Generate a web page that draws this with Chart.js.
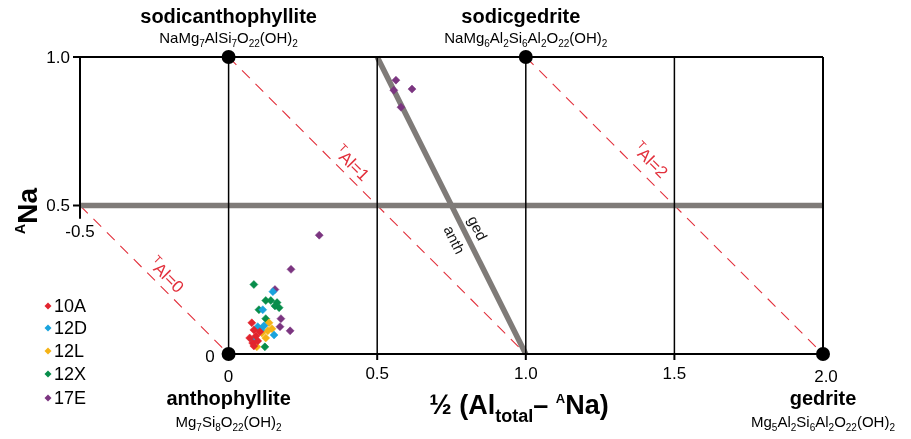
<!DOCTYPE html>
<html>
<head>
<meta charset="utf-8">
<script src="https://cdn.jsdelivr.net/npm/chart.js@4"></script>
<style>
  html, body { margin: 0; padding: 0; background: #fff; }
  canvas { display: block; }
</style>
</head>
<body>
<canvas id="amphChart" width="911" height="439"></canvas>
<script>
// axis ticks
const xTicks = [-0.5, 0, 0.5, 1.0, 1.5, 2.0];
const yTicks = [0, 0.5, 1.0];

// analyses: [1/2 (Al total - A Na), A Na]
const sample10A = [[0.078, 0.105], [0.085, 0.081], [0.092, 0.061], [0.105, 0.075], [0.081, 0.037], [0.085, 0.027], [0.071, 0.054], [0.098, 0.044]];
const sample12D = [[0.149, 0.210], [0.115, 0.149], [0.098, 0.092], [0.119, 0.095], [0.153, 0.064], [0.081, 0.047], [0.108, 0.081]];
const sample12L = [[0.136, 0.105], [0.146, 0.085], [0.125, 0.054], [0.095, 0.024], [0.112, 0.071], [0.132, 0.078]];
const sample12X = [[0.085, 0.234], [0.125, 0.180], [0.142, 0.180], [0.163, 0.173], [0.170, 0.156], [0.102, 0.149], [0.125, 0.119], [0.122, 0.024], [0.156, 0.162]];
const sample17E = [[0.563, 0.922], [0.556, 0.888], [0.617, 0.892], [0.580, 0.831], [0.305, 0.400], [0.210, 0.285], [0.156, 0.217], [0.176, 0.119], [0.173, 0.092], [0.207, 0.078]];

const sampleNames = ['10A', '12D', '12L', '12X', '17E'];
const sampleData = [sample10A, sample12D, sample12L, sample12X, sample17E];
const sampleColors = ['#e2242e', '#1aa3dd', '#f5b316', '#078d4a', '#7b3580'];

// end members
const endNames = ['sodicanthophyllite', 'sodicgedrite', 'anthophyllite', 'gedrite'];
const endFormulas = ['NaMg_{7}AlSi_{7}O_{22}(OH)_{2}', 'NaMg_{6}Al_{2}Si_{6}Al_{2}O_{22}(OH)_{2}', 'Mg_{7}Si_{8}O_{22}(OH)_{2}', 'Mg_{5}Al_{2}Si_{6}Al_{2}O_{22}(OH)_{2}'];
const endX = [0, 1, 0, 2];
const endY = [1, 1, 0, 0];

// frame and grid
const frameLines = [[[-0.5, 1], [2, 1]], [[-0.5, 1], [-0.5, 0.455]], [[0, 0], [2, 0]], [[2, 1], [2, 0]]];
const gridX = [0, 0.5, 1.0, 1.5];
// anth / ged boundary lines
const boundaryLines = [[[-0.5, 0.5], [2, 0.5]], [[0.5, 1], [1, 0]]];
// total tetrahedral Al contours
const tAlValues = [0, 1, 2];
const tAlLines = [[[-0.5, 0.5], [0, 0]], [[0, 1], [1, 0]], [[1, 1], [2, 0]]];
const tAlLabelAt = [-0.237, 0.387, 1.384];

const FONT = '"Liberation Sans", Arial, Helvetica, sans-serif';
const GRAY = '#7f7b78';
const RED = '#e2303c';

const toPts = arr => arr.map(p => ({ x: p[0], y: p[1] }));

function lineSet(pts, color, width, dash, order) {
  return {
    data: toPts(pts), showLine: true, borderColor: color, borderWidth: width,
    borderDash: dash || [], pointRadius: 0, pointHoverRadius: 0, order: order,
    clip: false, borderCapStyle: 'butt'
  };
}

const datasets = [];
sampleData.forEach((d, i) => {
  datasets.push({
    label: sampleNames[i], data: toPts(d), pointStyle: 'rectRot', pointRadius: 4,
    backgroundColor: sampleColors[i], borderColor: sampleColors[i], borderWidth: 0.5,
    showLine: false, order: 0, clip: false
  });
});
datasets.push({
  label: 'end members', data: endX.map((x, i) => ({ x: x, y: endY[i] })),
  pointRadius: 7, backgroundColor: '#000', borderColor: '#000', borderWidth: 0,
  showLine: false, order: 1, clip: false
});
frameLines.forEach(l => datasets.push(lineSet(l, '#000', 2, null, 2)));
gridX.forEach(x => datasets.push(lineSet([[x, 0], [x, 1]], '#000', 1.5, null, 2)));
boundaryLines.forEach(l => datasets.push(lineSet(l, GRAY, 5.5, null, 3)));
tAlLines.forEach(l => datasets.push(lineSet(l, RED, 1.1, [11, 8], 4)));

// text with _{sub} and ^{sup} markup
function parseRuns(str) {
  const runs = [];
  let buf = '', i = 0;
  while (i < str.length) {
    const c = str[i];
    if ((c === '_' || c === '^') && str[i + 1] === '{') {
      if (buf) { runs.push({ t: buf, k: 'n' }); buf = ''; }
      const end = str.indexOf('}', i);
      runs.push({ t: str.slice(i + 2, end), k: c === '_' ? 'sub' : 'sup' });
      i = end + 1;
    } else { buf += c; i++; }
  }
  if (buf) runs.push({ t: buf, k: 'n' });
  return runs;
}

function drawRich(ctx, str, x, y, o) {
  const runs = parseRuns(str);
  const fontFor = k => (o.weight || 'normal') + ' ' + (k === 'n' ? o.size : k === 'sub' ? o.subSize : o.supSize) + 'px ' + FONT;
  let w = 0;
  runs.forEach(r => { ctx.font = fontFor(r.k); r.w = ctx.measureText(r.t).width; w += r.w; });
  let cx = o.align === 'center' ? x - w / 2 : o.align === 'right' ? x - w : x;
  ctx.fillStyle = o.color || '#000';
  ctx.textAlign = 'left';
  ctx.textBaseline = 'alphabetic';
  runs.forEach(r => {
    ctx.font = fontFor(r.k);
    const dy = r.k === 'sub' ? o.subDy : r.k === 'sup' ? -o.supDy : 0;
    ctx.fillText(r.t, cx, y + dy);
    cx += r.w;
  });
}

const annotate = {
  id: 'annotate',
  beforeDatasetsDraw(chart) {
    const ctx = chart.ctx, xs = chart.scales.x, ys = chart.scales.y;
    ctx.save();
    ctx.strokeStyle = '#000';
    ctx.lineWidth = 2;
    const x0 = xs.getPixelForValue(-0.5);
    [0.5, 1.0].forEach(v => {
      const py = ys.getPixelForValue(v);
      ctx.beginPath(); ctx.moveTo(x0 - 7, py); ctx.lineTo(x0, py); ctx.stroke();
    });
    const yb = ys.getPixelForValue(0);
    [0.5, 1.0, 1.5].forEach(v => {
      const px = xs.getPixelForValue(v);
      ctx.beginPath(); ctx.moveTo(px, yb); ctx.lineTo(px, yb + 6); ctx.stroke();
    });
    ctx.restore();
  },
  afterDatasetsDraw(chart) {
    const ctx = chart.ctx, xs = chart.scales.x, ys = chart.scales.y;
    const X = v => xs.getPixelForValue(v), Y = v => ys.getPixelForValue(v);
    ctx.save();
    ctx.fillStyle = '#000';
    ctx.font = '17px ' + FONT;
    ctx.textBaseline = 'middle';

    // y tick labels
    ctx.textAlign = 'right';
    yTicks.forEach(v => {
      if (v === 0) ctx.fillText('0', X(0) - 14, Y(0) + 3);
      else ctx.fillText(v.toFixed(1), X(-0.5) - 10, Y(v) + 1);
    });
    // x tick labels
    ctx.textAlign = 'center';
    xTicks.forEach(v => {
      const txt = v === 0 ? '0' : v.toFixed(1);
      if (v === -0.5) ctx.fillText(txt, X(v), Y(0.455) + 13);
      else ctx.fillText(txt, X(v) + (v === 2 ? 3 : 0), Y(0) + (v === 0 || v === 2 ? 23 : 20));
    });

    // end member names and formulas
    endNames.forEach((n, i) => {
      const px = X(endX[i]);
      const top = endY[i] === 1;
      const nameY = top ? Y(1) - 34 : Y(0) + 51;
      const formY = top ? Y(1) - 14 : Y(0) + 73;
      drawRich(ctx, n, px - (i === 1 ? 5 : 0), nameY, { size: 20, weight: 'bold', align: 'center' });
      drawRich(ctx, endFormulas[i], px, formY, { size: 15, subSize: 10, supSize: 10, subDy: 4, supDy: 6, align: 'center' });
    });

    // TAl contour labels
    const tAlOff = [12, 12, 15];
    tAlLines.forEach((l, i) => {
      const ax = X(l[0][0]), ay = Y(l[0][1]), bx = X(l[1][0]), by = Y(l[1][1]);
      const th = Math.atan2(by - ay, bx - ax);
      const fx = X(tAlLabelAt[i]), fy = Y(tAlValues[i] - tAlLabelAt[i]);
      const off = tAlOff[i];
      ctx.save();
      ctx.translate(fx + off * Math.sin(th), fy - off * Math.cos(th));
      ctx.rotate(th);
      drawRich(ctx, '^{T}Al=' + tAlValues[i], 0, 6, { size: 17, supSize: 11, supDy: 7, align: 'center', color: RED });
      ctx.restore();
    });

    // anth / ged labels along the sloping boundary
    {
      const l = boundaryLines[1];
      const ax = X(l[0][0]), ay = Y(l[0][1]), bx = X(l[1][0]), by = Y(l[1][1]);
      const th = Math.atan2(by - ay, bx - ax);
      const t = 0.596;
      const fx = ax + (bx - ax) * t, fy = ay + (by - ay) * t;
      [['ged', 13], ['anth', -13]].forEach(([txt, off]) => {
        ctx.save();
        ctx.translate(fx + off * Math.sin(th), fy - off * Math.cos(th));
        ctx.rotate(th);
        drawRich(ctx, txt, 0, 5, { size: 15, align: 'center', color: '#111' });
        ctx.restore();
      });
    }

    // axis titles
    drawRich(ctx, '\u00bd (Al_{total}\u2013 ^{A}Na)', 519, 414, { size: 27, subSize: 18, supSize: 13, subDy: 8, supDy: 11, weight: 'bold', align: 'center' });
    ctx.save();
    ctx.translate(37, 211);
    ctx.rotate(-Math.PI / 2);
    drawRich(ctx, '^{A}Na', 0, 0, { size: 28, supSize: 14, supDy: 12, weight: 'bold', align: 'center' });
    ctx.restore();

    // legend
    const legY = [306, 328, 351, 374, 398];
    sampleNames.forEach((n, i) => {
      const cy = legY[i];
      ctx.fillStyle = sampleColors[i];
      ctx.beginPath();
      ctx.moveTo(48, cy - 3.5); ctx.lineTo(51.5, cy); ctx.lineTo(48, cy + 3.5); ctx.lineTo(44.5, cy);
      ctx.closePath(); ctx.fill();
      ctx.fillStyle = '#000';
      ctx.font = '18px ' + FONT;
      ctx.textAlign = 'left';
      ctx.textBaseline = 'middle';
      ctx.fillText(n, 54, cy + 1);
    });
    ctx.restore();
  }
};

new Chart(document.getElementById('amphChart').getContext('2d'), {
  type: 'scatter',
  data: { datasets: datasets },
  options: {
    responsive: false,
    animation: false,
    devicePixelRatio: 1,
    layout: { padding: { left: 80, right: 88, top: 57, bottom: 85 } },
    scales: {
      x: { type: 'linear', min: -0.5, max: 2.0, display: false },
      y: { type: 'linear', min: 0, max: 1.0, display: false }
    },
    plugins: { legend: { display: false }, tooltip: { enabled: false } },
    events: []
  },
  plugins: [annotate]
});
</script>
</body>
</html>
